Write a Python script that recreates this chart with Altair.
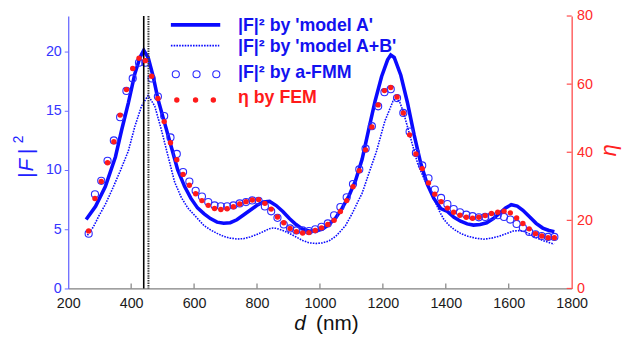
import altair as alt
import pandas as pd

FONT = "Liberation Sans"
BLUE = "#0a0aff"
TXTBLUE = "#1212f0"
RED = "#ff1a1a"

# ---------------- data ----------------
d_pts = [265, 285, 305, 325, 345, 365, 385, 405, 425, 445, 465, 485, 505, 525, 545,
         565, 585, 605, 625, 645, 665, 685, 705, 725, 745, 765, 785, 805, 825, 845,
         865, 885, 905, 925, 945, 965, 985, 1005, 1025, 1045, 1065, 1085, 1105, 1125,
         1145, 1165, 1185, 1205, 1225, 1245, 1265, 1285, 1305, 1325, 1345, 1365, 1385,
         1405, 1425, 1445, 1465, 1485, 1505, 1525, 1545, 1565, 1585, 1605, 1625, 1645,
         1665, 1685, 1705, 1725, 1745]

fmm_F2 = [4.63, 7.95, 9.09, 10.78, 12.5, 14.46, 16.68, 17.73, 19.06, 19.06, 17.73, 16.2,
          14.55, 12.75, 11.36, 9.83, 9.03, 8.25, 7.76, 7.29, 7.01, 6.93, 6.93, 7.01, 7.18,
          7.29, 7.43, 7.4, 6.93, 6.51, 5.96, 5.4, 5.07, 4.9, 4.9, 4.85, 4.99, 5.21, 5.49,
          6.18, 6.87, 7.7, 8.81, 10.05, 11.8, 13.7, 15.38, 16.57, 16.82, 16.07, 14.82,
          13.24, 11.44, 10.39, 9.3, 8.35, 7.64, 7.12, 6.7, 6.43, 6.23, 6.1, 6.01, 6.04,
          6.1, 6.18, 6.04, 5.82, 5.45, 5.12, 4.77, 4.57, 4.43, 4.35, 4.35]

fem_eta = [16.9, 26.4, 31.4, 36.9, 43.1, 50.9, 58.4, 64.6, 67.6, 66.9, 62.3, 55.8, 49.0,
           42.8, 37.8, 33.5, 30.3, 27.8, 25.8, 24.4, 23.5, 23.2, 23.4, 24.0, 24.8, 25.5,
           26.0, 26.1, 25.0, 23.3, 21.0, 19.3, 17.6, 16.7, 16.3, 16.4, 17.0, 17.8, 18.8,
           20.0, 22.6, 25.8, 29.9, 34.6, 40.7, 47.4, 53.9, 58.1, 59.0, 56.2, 51.5, 45.1,
           39.5, 35.2, 31.0, 27.7, 25.5, 23.6, 22.4, 21.5, 20.9, 20.6, 20.9, 21.4, 22.0,
           22.4, 22.7, 22.2, 20.7, 19.1, 17.5, 16.1, 15.4, 14.9, 14.9]

modelA_d = [257, 287, 318, 350, 370, 391, 412, 428, 440, 454, 470, 485, 506, 527, 548,
            570, 590, 611, 632, 652, 673, 694, 715, 736, 757, 778, 799, 820, 840, 861,
            882, 903, 924, 945, 966, 987, 1008, 1029, 1050, 1071, 1092, 1113, 1134, 1154,
            1175, 1196, 1215, 1225, 1236, 1257, 1278, 1299, 1320, 1341, 1362, 1384, 1405,
            1426, 1447, 1468, 1488, 1509, 1530, 1551, 1572, 1590, 1608, 1627, 1645, 1666,
            1687, 1708, 1728, 1745]
modelA_F2 = [5.82, 6.93, 8.6, 11.1, 13.4, 15.65, 18.15, 19.5, 20.1, 19.5, 17.9, 16.0,
             14.0, 12.0, 10.0, 8.6, 7.6, 6.8, 6.3, 5.9, 5.6, 5.5, 5.55, 5.8, 6.2, 6.6, 7.0,
             7.3, 7.35, 7.0, 6.5, 5.9, 5.4, 5.0, 4.85, 4.85, 5.0, 5.4, 5.95, 6.8, 7.8, 9.1,
             10.9, 13.3, 15.8, 17.9, 19.3, 19.7, 19.5, 18.0, 15.7, 13.0, 10.6, 8.8, 7.6,
             6.75, 6.5, 6.0, 5.68, 5.45, 5.35, 5.4, 5.54, 5.9, 6.37, 6.8, 7.07, 6.95, 6.6,
             6.05, 5.5, 5.1, 4.9, 4.8]

modelAB_d = [261, 280, 297, 318, 339, 365, 391, 412, 433, 454, 475, 496, 517, 538, 559,
             580, 611, 632, 652, 673, 694, 715, 736, 757, 778, 799, 820, 840, 851, 861,
             882, 903, 924, 945, 966, 987, 1008, 1029, 1050, 1071, 1081, 1102, 1122, 1134,
             1154, 1180, 1206, 1232, 1243, 1254, 1264, 1285, 1311, 1332, 1350, 1363, 1380,
             1394, 1410, 1426, 1447, 1467, 1494, 1520, 1546, 1572, 1594, 1614, 1630, 1645,
             1666, 1687, 1708, 1728, 1744]
modelAB_F2 = [4.49, 5.2, 6.1, 7.1, 8.31, 9.9, 11.6, 13.7, 15.4, 16.3, 15.4, 13.4, 11.2,
              9.0, 7.7, 6.8, 5.9, 5.3, 4.95, 4.65, 4.4, 4.25, 4.18, 4.2, 4.35, 4.55, 4.8,
              5.05, 5.1, 5.08, 4.9, 4.65, 4.35, 4.05, 3.85, 3.8, 3.85, 4.02, 4.4, 5.0, 5.3,
              6.3, 7.4, 8.04, 9.6, 11.6, 14.1, 15.8, 16.07, 15.7, 15.0, 13.0, 10.5, 9.2,
              8.3, 7.5, 6.5, 5.82, 5.35, 4.99, 4.65, 4.43, 4.25, 4.16, 4.25, 4.43, 4.65,
              4.85, 4.88, 4.85, 4.6, 4.3, 4.05, 3.88, 3.74]

vline_solid_d = [440]
vline_dotted_d = [455]

x_ticks = [200, 400, 600, 800, 1000, 1200, 1400, 1600, 1800]
x_inner_ticks = [400, 600, 800, 1000, 1200, 1400, 1600]
yl_ticks = [0, 5, 10, 15, 20]
yr_ticks = [0, 20, 40, 60, 80]

legend_labels = ["|F|\u00b2 by 'model A'", "|F|\u00b2 by 'model A+B'",
                 "|F|\u00b2 by a-FMM", "\u03b7 by FEM"]

# ---------------- frames ----------------
df_A = pd.DataFrame({"d": modelA_d, "v": modelA_F2})
df_AB = pd.DataFrame({"d": modelAB_d, "v": modelAB_F2})
df_fmm = pd.DataFrame({"d": d_pts, "v": fmm_F2})
df_fem = pd.DataFrame({"d": d_pts, "eta": fem_eta})
one = pd.DataFrame({"z": [0]})

W, H = 510, 276


def xenc(field="d"):
    return alt.X(f"{field}:Q",
                 scale=alt.Scale(domain=[200, 1800], nice=False, zero=False),
                 axis=alt.Axis(values=x_ticks, ticks=False, grid=False, domainColor="#808080",
                               domainWidth=1.3, labelColor="#1a1a1a", labelFontSize=14.5,
                               labelFont=FONT, labelPadding=8, title=None, labelFlush=False,
                               format="d"))


def ylenc(field="v"):
    return alt.Y(f"{field}:Q",
                 scale=alt.Scale(domain=[0, 23], nice=False, zero=True),
                 axis=alt.Axis(values=yl_ticks, orient="left", grid=False, tickSize=4,
                               tickColor="#6a6aff", domainColor="#6a6aff", domainWidth=1.3,
                               labelColor="#3535ff", labelFontSize=14.5, labelFont=FONT,
                               labelPadding=3, title=None, format="d"))


def yrenc(field="eta"):
    return alt.Y(f"{field}:Q",
                 scale=alt.Scale(domain=[0, 80], nice=False, zero=True),
                 axis=alt.Axis(values=yr_ticks, orient="right", grid=False, ticks=False,
                               domainColor="#ff4a4a", domainWidth=1.3, labelColor="#ff2a2a",
                               labelFontSize=14.5, labelFont=FONT, labelPadding=5,
                               title=None, format="d"))


lineA = alt.Chart(df_A).mark_line(color=BLUE, strokeWidth=3.6).encode(
    x=xenc(), y=ylenc(), order="d:Q")
lineAB = alt.Chart(df_AB).mark_line(color=BLUE, strokeWidth=1.6, strokeDash=[1.6, 1.2]).encode(
    x=xenc(), y=ylenc(), order="d:Q")
pts_fmm = alt.Chart(df_fmm).mark_point(shape="circle", filled=False, color="#2b2bff",
                                       size=52, strokeWidth=1.1, opacity=1).encode(
    x=xenc(), y=ylenc())

vl1 = alt.Chart(pd.DataFrame({"d": vline_solid_d})).mark_rule(
    color="#000000", strokeWidth=1.6).encode(x=xenc())
vl2 = alt.Chart(pd.DataFrame({"d": vline_dotted_d})).mark_rule(
    color="#3a3a3a", strokeWidth=2, strokeDash=[1.5, 1]).encode(x=xenc())

xt = alt.Chart(pd.DataFrame({"d": x_inner_ticks})).mark_rule(
    color="#808080", strokeWidth=1.2).encode(
    x=xenc(), y=alt.value(H - 5), y2=alt.value(H))

# legend
leg = []
leg.append(alt.Chart(one).mark_rule(color=BLUE, strokeWidth=3.6).encode(
    x=alt.value(104), x2=alt.value(154), y=alt.value(9)))
leg.append(alt.Chart(one).mark_rule(color=BLUE, strokeWidth=1.6, strokeDash=[1.6, 1.2]).encode(
    x=alt.value(104), x2=alt.value(153), y=alt.value(30)))
for px in [109, 130, 150]:
    leg.append(alt.Chart(one).mark_point(shape="circle", filled=False, color="#2b2bff",
                                         size=52, strokeWidth=1.1, opacity=1).encode(
        x=alt.value(px), y=alt.value(59)))
for px in [110, 129, 147]:
    leg.append(alt.Chart(one).mark_circle(color=RED, size=30, opacity=1).encode(
        x=alt.value(px), y=alt.value(85)))
for lab, yy, col in zip(legend_labels, [15, 36, 63, 88],
                        [TXTBLUE, TXTBLUE, TXTBLUE, RED]):
    leg.append(alt.Chart(one).mark_text(align="left", baseline="alphabetic", font=FONT,
                                        fontSize=18, fontWeight="bold", color=col).encode(
        x=alt.value(172), y=alt.value(yy), text=alt.value(lab)))

# axis titles
titles = []
titles.append(alt.Chart(one).mark_text(align="left", baseline="alphabetic", font=FONT,
                                       fontSize=21, fontStyle="italic", color="#111111").encode(
    x=alt.value(229), y=alt.value(318), text=alt.value("d")))
titles.append(alt.Chart(one).mark_text(align="left", baseline="alphabetic", font=FONT,
                                       fontSize=21, color="#111111").encode(
    x=alt.value(251), y=alt.value(318), text=alt.value("(nm)")))
# left title |F|^2 rotated
for txt, yy, style, fs, xx in [("|", 161, "normal", 21, -36), ("F", 151, "italic", 21, -36),
                                ("|", 137, "normal", 21, -36), ("2", 125, "normal", 14, -46)]:
    titles.append(alt.Chart(one).mark_text(align="center", baseline="alphabetic", font=FONT,
                                           fontSize=fs, fontStyle=style, color="#2020ff",
                                           angle=270).encode(
        x=alt.value(xx), y=alt.value(yy), text=alt.value(txt)))
titles.append(alt.Chart(one).mark_text(align="center", baseline="middle", font=FONT,
                                       fontSize=22, fontStyle="italic", color="#ff2020",
                                       angle=270).encode(
    x=alt.value(548), y=alt.value(136), text=alt.value("\u03b7")))

left = alt.layer(lineAB, lineA, pts_fmm, vl1, vl2, xt, *leg, *titles)

pts_fem = alt.Chart(df_fem).mark_circle(color=RED, size=30, opacity=1).encode(
    x=xenc(), y=yrenc())
rt = alt.Chart(pd.DataFrame({"t": yr_ticks})).mark_rule(color="#ff4a4a", strokeWidth=1.2).encode(
    y=yrenc("t"), x=alt.value(W - 5), x2=alt.value(W))
right = alt.layer(pts_fem, rt)

chart = alt.layer(left, right).resolve_scale(y="independent").properties(
    width=W, height=H,
    autosize=alt.AutoSizeParams(type="none"),
    padding={"left": 61, "top": 6, "right": 52, "bottom": 44},
    background="white",
).configure_view(stroke=None)

chart.save("out.html", embed_options={"renderer": "svg", "actions": False})
